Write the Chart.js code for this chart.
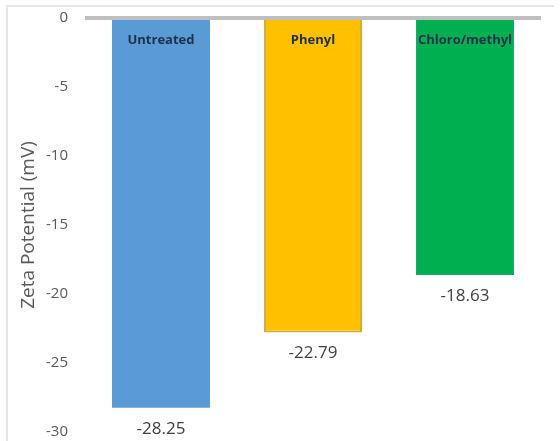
<!DOCTYPE html>
<html>
<head>
<meta charset="utf-8">
<script src="https://cdn.jsdelivr.net/npm/chart.js@4/dist/chart.umd.min.js"></script>
<style>
  html, body { margin: 0; padding: 0; background: #ffffff; }
  #wrap { position: relative; width: 560px; height: 441px; }
  #frame { position: absolute; left: 6px; top: 5px; width: 548px; height: 440px;
           border-top: 2px solid #e6e6e6; border-left: 2px solid #e6e6e6; box-sizing: border-box; }
  canvas { position: absolute; left: 0; top: 0; }
</style>
</head>
<body>
<div id="wrap">
  <div id="frame"></div>
  <canvas id="c" width="560" height="441"></canvas>
</div>
<script>
// Zeta potential of the three surface treatments (mV)
const categories = ['Untreated', 'Phenyl', 'Chloro/methyl'];
const zetaValues = [-28.25, -22.79, -18.63];
const valueLabels = ['-28.25', '-22.79', '-18.63'];
const yTicks = [0, -5, -10, -15, -20, -25, -30];

const barColors = ['#5b9bd5', '#ffc000', '#00b050'];
const barEdges = ['#5b9bd5', '#cfae3e', '#12a86a'];

const FONT = "'Open Sans', 'Liberation Sans', sans-serif";

// Writes category names inside the top of each bar and the value below it
const barText = {
  id: 'barText',
  afterDatasetsDraw(chart) {
    const ctx = chart.ctx;
    const meta = chart.getDatasetMeta(0);
    const y = chart.scales.y;
    ctx.save();
    ctx.textAlign = 'center';
    ctx.textBaseline = 'middle';
    meta.data.forEach((bar, i) => {
      ctx.font = 'bold 13px ' + FONT;
      ctx.fillStyle = '#1f2f4d';
      ctx.fillText(categories[i], bar.x, y.getPixelForValue(0) + 22);
      ctx.font = '17px ' + FONT;
      ctx.fillStyle = '#404040';
      ctx.fillText(valueLabels[i], bar.x, y.getPixelForValue(zetaValues[i]) + 21);
    });
    ctx.restore();
  }
};

new Chart(document.getElementById('c'), {
  type: 'bar',
  data: {
    labels: categories,
    datasets: [{
      data: zetaValues,
      backgroundColor: barColors,
      borderColor: barEdges,
      borderWidth: [0, 2, 1],
      borderSkipped: 'start',
      categoryPercentage: 1.0,
      barPercentage: 0.645
    }]
  },
  options: {
    responsive: false,
    animation: false,
    events: [],
    layout: { padding: { left: 0, right: 19, top: 18, bottom: 9 } },
    plugins: { legend: { display: false }, tooltip: { enabled: false } },
    scales: {
      x: { display: false },
      y: {
        min: -30,
        max: 0,
        afterBuildTicks(scale) { scale.ticks = yTicks.map(v => ({ value: v })); },
        afterFit(scale) {
          scale.width = 85;
          scale.paddingTop = 0;
          scale.paddingBottom = 0;
        },
        ticks: {
          padding: 17,
          color: '#595959',
          font: { family: FONT, size: 15 }
        },
        grid: {
          drawTicks: false,
          color: ctx => (ctx.tick && ctx.tick.value === 0 ? '#bfbfbf' : 'rgba(0,0,0,0)'),
          lineWidth: ctx => (ctx.tick && ctx.tick.value === 0 ? 4 : 0)
        },
        border: { display: false },
        title: {
          display: true,
          text: 'Zeta Potential (mV)',
          color: '#595959',
          font: { family: FONT, size: 19 },
          padding: { top: 17, bottom: 0 }
        }
      }
    }
  },
  plugins: [barText]
});
</script>
</body>
</html>
